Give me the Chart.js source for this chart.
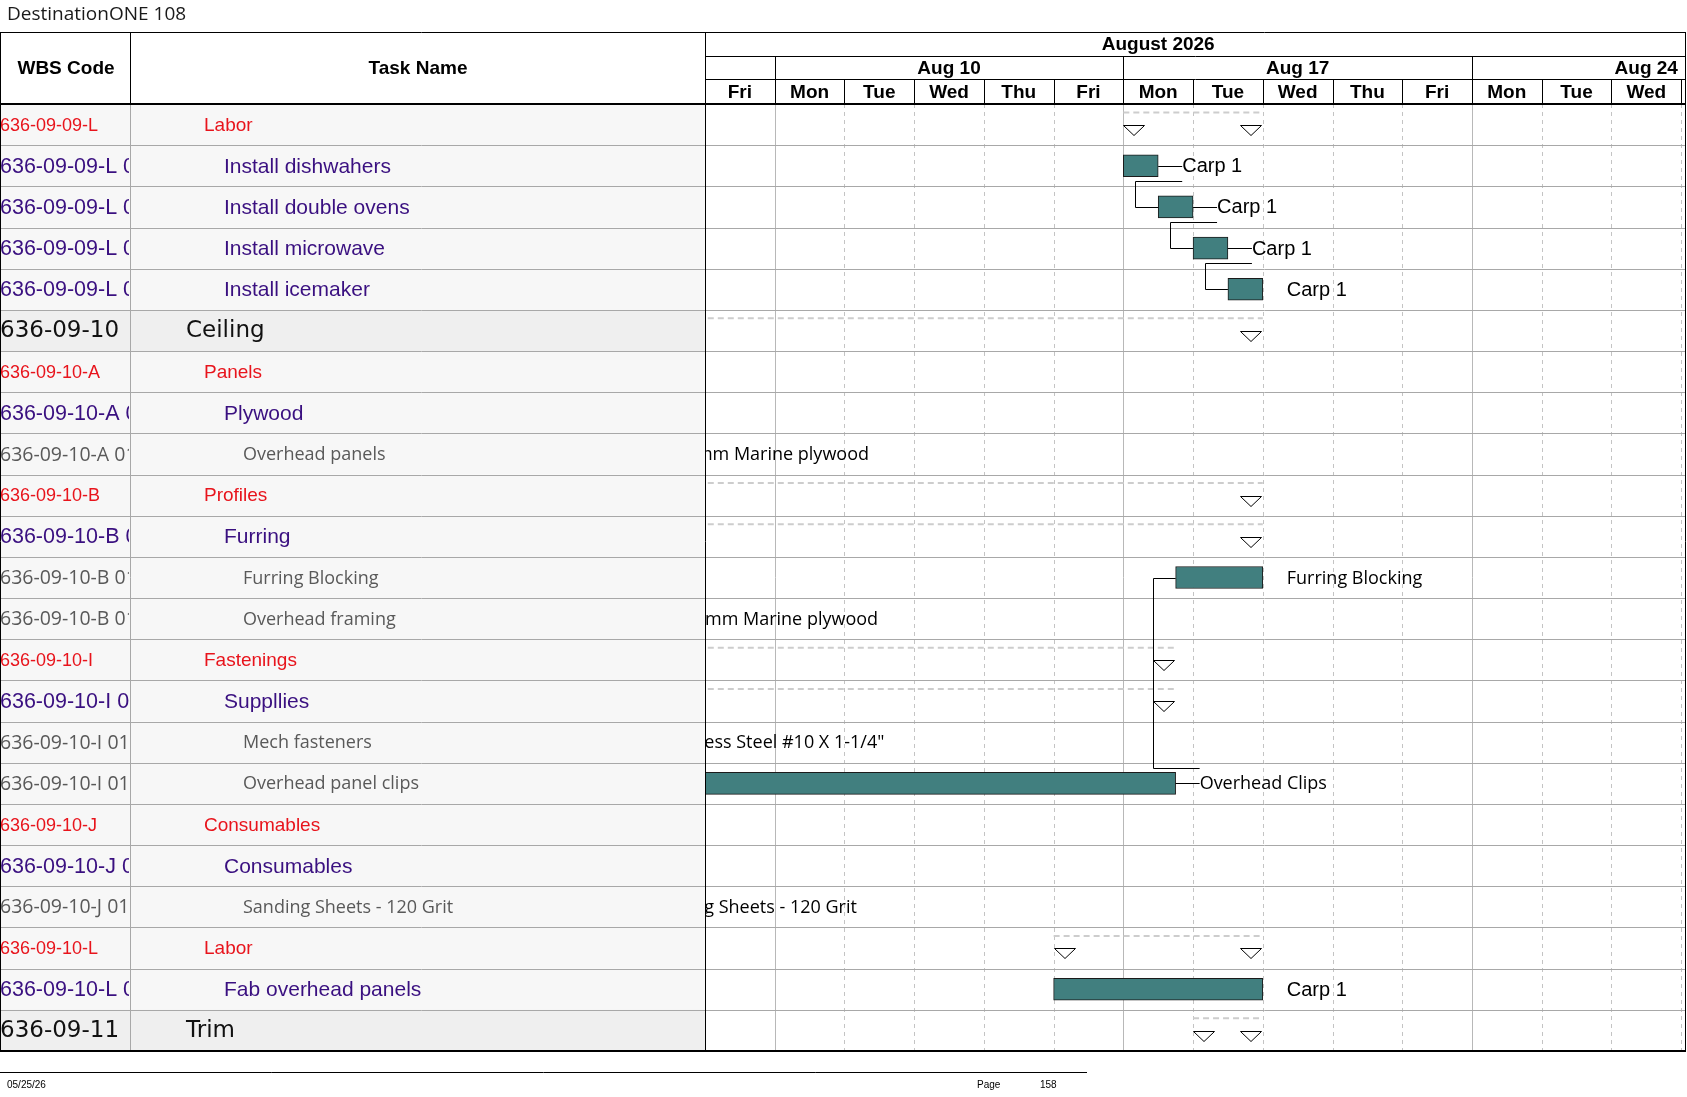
<!DOCTYPE html>
<html><head><meta charset="utf-8">
<script src="https://cdn.jsdelivr.net/npm/chart.js@4.4.1/dist/chart.umd.min.js"></script>
<style>html,body{margin:0;padding:0;background:#fff;overflow:hidden}#wrap{width:1687px;height:1097px;position:relative}</style>
</head><body><div id="wrap"><canvas id="c" width="1687" height="1097"></canvas></div>
<script>
// ---------- DATA ----------
const reportTitle = 'DestinationONE 108';
const monthLabel = 'August 2026';
const monthSpan = [-4, 17];                 // working-day indices (Fri Aug 7 = 0)
const weekLabels = ['', 'Aug 10', 'Aug 17', 'Aug 24'];
const weekStarts = [-4, 1, 6, 11];
const dayLabels = ['Fri','Mon','Tue','Wed','Thu','Fri','Mon','Tue','Wed','Thu','Fri','Mon','Tue','Wed'];
const wbsCodes = ['636-09-09-L','636-09-09-L 01','636-09-09-L 02','636-09-09-L 03','636-09-09-L 04',
  '636-09-10','636-09-10-A','636-09-10-A 01','636-09-10-A 01-01','636-09-10-B','636-09-10-B 01',
  '636-09-10-B 01-01','636-09-10-B 01-02','636-09-10-I','636-09-10-I 01','636-09-10-I 01-01',
  '636-09-10-I 01-02','636-09-10-J','636-09-10-J 01','636-09-10-J 01-01','636-09-10-L','636-09-10-L 01','636-09-11'];
const taskNames = ['Labor','Install dishwahers','Install double ovens','Install microwave','Install icemaker',
  'Ceiling','Panels','Plywood','Overhead panels','Profiles','Furring','Furring Blocking','Overhead framing',
  'Fastenings','Suppllies','Mech fasteners','Overhead panel clips','Consumables','Consumables',
  'Sanding Sheets - 120 Grit','Labor','Fab overhead panels','Trim'];
const taskLevels = [2,3,3,3,3,1,2,3,4,2,3,4,4,2,3,4,4,2,3,4,2,3,1];
const taskSpans = [null,[6,6.5],[6.5,7],[7,7.5],[7.5,8],null,null,null,[-2,-0.77],null,null,[6.75,8],[-2,-0.64],
  null,null,[-2,-1.02],[-3,6.75],null,null,[-2,-1.18],null,[5,8],null];
const summarySpans = [[6,8],null,null,null,null,[-10,8],[-10,-0.77],[-10,-0.77],null,[-10,8],[-10,8],null,null,
  [-10,6.75],[-10,6.75],null,null,[-10,-1.18],[-10,-1.18],null,[5,8],null,[7,8]];
const barLabels = [null,'Carp 1','Carp 1','Carp 1','Carp 1',null,null,null,'18mm Marine plywood',null,null,
  'Furring Blocking','18mm Marine plywood',null,null,'Stainless Steel #10 X 1-1/4"','Overhead Clips',null,null,
  'Sanding Sheets - 120 Grit',null,'Carp 1',null];
const links = [[1,2],[2,3],[3,4],[16,11]];
const footerDate = '05/25/26', footerPageWord = 'Page', footerPage = '158';

// ---------- STYLE ----------
const ARIAL = '"Liberation Sans", Arial, sans-serif';
const OPEN = '"Open Sans", sans-serif';
const DEJA = '"DejaVu Sans", sans-serif';
const levelStyle = {
  1:{wbsFont:'23px '+DEJA, font:'23px '+DEJA, color:'#111', indent:186, bg:'#efefef'},
  2:{wbsFont:'18px '+ARIAL, font:'19px '+ARIAL, color:'#e8141c', indent:204, bg:'#f7f7f7'},
  3:{wbsFont:'21.5px '+ARIAL, font:'21px '+ARIAL, color:'#3a1080', indent:224, bg:'#f7f7f7'},
  4:{wbsFont:'19.5px '+OPEN, font:'18px '+OPEN, color:'#595959', indent:243, bg:'#f7f7f7'}
};
const COL_WBS = 130, COL_GANTT = 706, HDR_TOP = 32, HDR1 = 56, HDR2 = 79;

function line(ctx, x1, y1, x2, y2){ ctx.beginPath(); ctx.moveTo(x1,y1); ctx.lineTo(x2,y2); ctx.stroke(); }

const ganttPlugin = {
  id:'gantt',
  beforeDraw(chart){
    const {ctx, chartArea:a} = chart; const y = chart.scales.y;
    const n = taskNames.length, band = (a.bottom - a.top)/n;
    ctx.save();
    ctx.fillStyle = '#fff'; ctx.fillRect(0,0,chart.width,chart.height);
    for(let i=0;i<n;i++){
      const top = y.getPixelForValue(i) - band/2;
      ctx.fillStyle = levelStyle[taskLevels[i]].bg;
      ctx.fillRect(0, top, COL_GANTT, band);
    }
    ctx.restore();
  },
  beforeDatasetsDraw(chart){
    const {ctx, chartArea:a} = chart; const x = chart.scales.x, y = chart.scales.y;
    const n = taskNames.length, band = (a.bottom - a.top)/n;
    ctx.save();
    for(let d=1; d<=dayLabels.length; d++){
      const px = Math.round(x.getPixelForValue(d)) + 0.5;
      const weekStart = weekStarts.includes(d);
      ctx.strokeStyle = weekStart ? '#b8b8b8' : '#c4c4c4';
      ctx.lineWidth = 1;
      ctx.setLineDash(weekStart ? [] : [4,4]);
      line(ctx, px, a.top, px, a.bottom);
    }
    ctx.setLineDash([]);
    ctx.strokeStyle = '#a8a8a8';
    for(let i=1;i<n;i++){
      const py = Math.round(y.getPixelForValue(i) - band/2) + 0.5;
      line(ctx, 0, py, a.right, py);
    }
    line(ctx, COL_WBS+0.5, a.top, COL_WBS+0.5, a.bottom);
    ctx.restore();
  },
  afterDatasetsDraw(chart){
    const {ctx, chartArea:a} = chart; const x = chart.scales.x, y = chart.scales.y;
    const n = taskNames.length, band = (a.bottom - a.top)/n;
    ctx.save();
    ctx.beginPath(); ctx.rect(a.left, a.top, a.right-a.left, a.bottom-a.top); ctx.clip();
    for(let i=0;i<n;i++){
      const s = summarySpans[i]; if(!s) continue;
      const top = y.getPixelForValue(i) - band/2;
      const x0 = x.getPixelForValue(s[0]), x1 = x.getPixelForValue(s[1]);
      ctx.strokeStyle = '#cdcdcd'; ctx.lineWidth = 2; ctx.setLineDash([6,4]);
      line(ctx, x0, top+8.5, x1, top+8.5);
      ctx.setLineDash([]);
      ctx.lineWidth = 1; ctx.strokeStyle = '#000'; ctx.fillStyle = '#fff';
      const tri = (lx) => { const t = Math.round(top+21)+0.5; ctx.beginPath(); ctx.moveTo(lx,t); ctx.lineTo(lx+21,t); ctx.lineTo(lx+10.5,t+10); ctx.closePath(); ctx.fill(); ctx.stroke(); };
      tri(Math.round(x0)+0.5); tri(Math.round(x1)-22.5);
    }
    const preds = links.map(l=>l[0]);
    ctx.strokeStyle = '#000'; ctx.lineWidth = 1;
    for(let i=0;i<n;i++){
      const s = taskSpans[i]; if(!s || !barLabels[i]) continue;
      const mid = y.getPixelForValue(i);
      const ex = x.getPixelForValue(s[1]);
      if(preds.includes(i)) line(ctx, ex, Math.round(mid)+0.5, ex+24, Math.round(mid)+0.5);
      const isCarp = barLabels[i].startsWith('Carp');
      ctx.font = isCarp ? ('20px '+ARIAL) : ('18px '+OPEN);
      ctx.fillStyle = '#000'; ctx.textBaseline = 'middle'; ctx.textAlign = 'left';
      ctx.fillText(barLabels[i], ex + 24, mid + 1);
    }
    links.forEach(([p, s]) => {
      const pm = y.getPixelForValue(p), sm = y.getPixelForValue(s);
      const pEnd = x.getPixelForValue(taskSpans[p][1]) + 24;
      const sStart = x.getPixelForValue(taskSpans[s][0]);
      const vx = Math.round(sStart - 23) + 0.5;
      const hy = Math.round(s > p ? pm + 15 : pm - 15) + 0.5;
      const sy = Math.round(sm) + 0.5;
      ctx.beginPath(); ctx.moveTo(pEnd, hy); ctx.lineTo(vx, hy); ctx.lineTo(vx, sy); ctx.lineTo(sStart, sy); ctx.stroke();
    });
    ctx.restore();
  },
  afterDraw(chart){
    const {ctx, chartArea:a} = chart; const x = chart.scales.x, y = chart.scales.y;
    const n = taskNames.length, band = (a.bottom - a.top)/n;
    ctx.save();
    for(let i=0;i<n;i++){
      const st = levelStyle[taskLevels[i]];
      const mid = y.getPixelForValue(i), top = mid - band/2;
      ctx.fillStyle = st.color; ctx.textBaseline = 'middle'; ctx.textAlign = 'left';
      ctx.save(); ctx.beginPath(); ctx.rect(1, top, COL_WBS-2, band); ctx.clip();
      ctx.font = st.wbsFont; ctx.fillText(wbsCodes[i], 0, mid + 1); ctx.restore();
      ctx.save(); ctx.beginPath(); ctx.rect(COL_WBS+1, top, COL_GANTT-COL_WBS-2, band); ctx.clip();
      ctx.font = st.font; ctx.fillText(taskNames[i], st.indent, mid + 1); ctx.restore();
    }
    ctx.fillStyle = '#fff'; ctx.fillRect(0, HDR_TOP, a.right, a.top - HDR_TOP);
    ctx.fillStyle = '#000'; ctx.font = 'bold 19px '+ARIAL; ctx.textAlign = 'center'; ctx.textBaseline = 'middle';
    ctx.fillText('WBS Code', COL_WBS/2 + 1, (HDR_TOP + a.top)/2 + 1);
    ctx.fillText('Task Name', (COL_WBS + COL_GANTT)/2, (HDR_TOP + a.top)/2 + 1);
    ctx.save(); ctx.beginPath(); ctx.rect(a.left, HDR_TOP, a.right - a.left, a.top - HDR_TOP); ctx.clip();
    ctx.font = 'bold 19px '+ARIAL;
    ctx.fillText(monthLabel, x.getPixelForValue((monthSpan[0]+monthSpan[1])/2), (HDR_TOP+HDR1)/2 + 1);
    weekLabels.forEach((w, k) => {
      if(!w) return;
      const c = x.getPixelForValue(weekStarts[k] + 2.5);
      ctx.fillText(w, c, (HDR1+HDR2)/2 + 1);
    });
    dayLabels.forEach((d, k) => ctx.fillText(d, x.getPixelForValue(k + 0.5), (HDR2 + a.top)/2 + 1));
    ctx.restore();
    ctx.strokeStyle = '#000'; ctx.lineWidth = 1;
    line(ctx, 0, HDR_TOP+0.5, a.right, HDR_TOP+0.5);
    line(ctx, a.left, HDR1+0.5, a.right, HDR1+0.5);
    line(ctx, a.left, HDR2+0.5, a.right, HDR2+0.5);
    weekStarts.forEach(w => { const px = Math.round(x.getPixelForValue(w))+0.5; if(px > a.left+2 && px < a.right) line(ctx, px, HDR1, px, HDR2); });
    for(let d=1; d<=dayLabels.length; d++){ const px = Math.round(x.getPixelForValue(d))+0.5; line(ctx, px, HDR2, px, a.top); }
    line(ctx, COL_WBS+0.5, HDR_TOP, COL_WBS+0.5, a.top);
    line(ctx, 0.5, HDR_TOP, 0.5, a.bottom);
    line(ctx, COL_GANTT-0.5, HDR_TOP, COL_GANTT-0.5, a.bottom);
    line(ctx, a.right-0.5, HDR_TOP, a.right-0.5, a.bottom);
    ctx.lineWidth = 2;
    line(ctx, 0, a.top, a.right, a.top);
    line(ctx, 0, a.bottom, a.right, a.bottom);
    ctx.textAlign = 'left'; ctx.textBaseline = 'middle'; ctx.fillStyle = '#1a1a1a';
    ctx.font = '19px '+OPEN; ctx.fillText(reportTitle, 7, 15);
    ctx.lineWidth = 1; line(ctx, 0, 1072.5, 1087, 1072.5);
    ctx.font = '10px '+ARIAL; ctx.fillStyle = '#000';
    ctx.fillText(footerDate, 7, 1085); ctx.fillText(footerPageWord, 977, 1085); ctx.fillText(footerPage, 1040, 1085);
    ctx.restore();
  }
};

function build(){
  new Chart(document.getElementById('c'), {
    type:'bar',
    data:{ labels: taskNames, datasets:[{ data: taskSpans, backgroundColor:'#417f7f', borderColor:'#1b1b1b',
      borderWidth:1, borderSkipped:false, barThickness:22 }]},
    options:{
      indexAxis:'y', responsive:false, animation:false, devicePixelRatio:1, events:[],
      layout:{padding:{left:705, right:1, top:104, bottom:46}},
      plugins:{legend:{display:false}, title:{display:false}, tooltip:{enabled:false}},
      scales:{ x:{type:'linear', min:0, max:14.07, display:false},
               y:{type:'category', display:false, offset:true} }
    },
    plugins:[ganttPlugin]
  });
}
Promise.all(['18px "Open Sans"','18px "Liberation Sans"','bold 19px "Liberation Sans"','22px "DejaVu Sans"']
  .map(f => document.fonts.load(f).catch(()=>null))).then(build, build);
</script></body></html>
